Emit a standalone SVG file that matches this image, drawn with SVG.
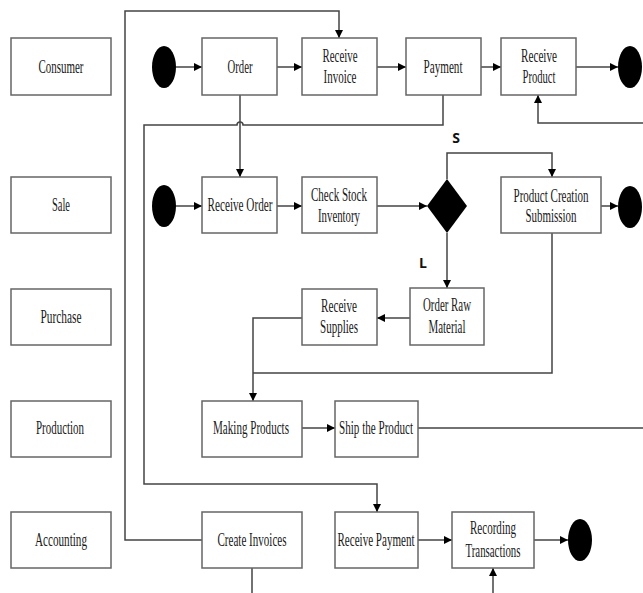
<svg xmlns="http://www.w3.org/2000/svg" width="643" height="593" viewBox="0 0 643 593">
<style>
.box{fill:#fff;stroke:#666;stroke-width:1.5}
.t{font-family:"Liberation Serif","DejaVu Serif","Times New Roman",serif;font-size:18.5px;fill:#1a1a1a;text-anchor:middle}
.b{font-family:"Open Sans","DejaVu Sans",sans-serif;font-size:14px;font-weight:bold;fill:#111;text-anchor:middle}
.c{fill:none;stroke:#444;stroke-width:1.5}
.dot{fill:#000}
</style>
<defs>
<marker id="ah" markerUnits="userSpaceOnUse" markerWidth="10" markerHeight="10" refX="9" refY="5" orient="auto">
<path d="M1,1 L9,5 L1,9 Z" fill="#000"/>
</marker>
</defs>
<rect width="643" height="593" fill="#fff"/>
<g id="lanes">
<g id="lane-consumer"><rect class="box" x="11" y="38" width="100" height="57"/><text class="t" x="61" y="73" textLength="45" lengthAdjust="spacingAndGlyphs">Consumer</text></g>
<g id="lane-sale"><rect class="box" x="11" y="177" width="100" height="56"/><text class="t" x="61" y="211" textLength="18" lengthAdjust="spacingAndGlyphs">Sale</text></g>
<g id="lane-purchase"><rect class="box" x="11" y="289" width="100" height="56"/><text class="t" x="61" y="323" textLength="41" lengthAdjust="spacingAndGlyphs">Purchase</text></g>
<g id="lane-production"><rect class="box" x="11" y="401" width="100" height="56"/><text class="t" x="60" y="434" textLength="48" lengthAdjust="spacingAndGlyphs">Production</text></g>
<g id="lane-accounting"><rect class="box" x="11" y="512" width="100" height="56"/><text class="t" x="61" y="546" textLength="52" lengthAdjust="spacingAndGlyphs">Accounting</text></g>
</g>
<g id="connectors">
<path class="c" d="M176,67 H202" marker-end="url(#ah)"/>
<path class="c" d="M277,67 H302" marker-end="url(#ah)"/>
<path class="c" d="M377,67 H406" marker-end="url(#ah)"/>
<path class="c" d="M481,67 H501" marker-end="url(#ah)"/>
<path class="c" d="M576,67 H618" marker-end="url(#ah)"/>
<path class="c" d="M202,540 H125 V11 H339 V38" marker-end="url(#ah)"/>
<path class="c" d="M443,95 V125 H243 A3,3 0 0 0 237,125 H144 V484 H377 V512" marker-end="url(#ah)"/>
<path class="c" d="M240,95 V177" marker-end="url(#ah)"/>
<path class="c" d="M176,206 H202" marker-end="url(#ah)"/>
<path class="c" d="M277,206 H302" marker-end="url(#ah)"/>
<path class="c" d="M377,206 H427" marker-end="url(#ah)"/>
<path class="c" d="M447,179 V153 H552 V177" marker-end="url(#ah)"/>
<path class="c" d="M601,206 H618" marker-end="url(#ah)"/>
<path class="c" d="M447,233 V288" marker-end="url(#ah)"/>
<path class="c" d="M410,318 H377" marker-end="url(#ah)"/>
<path class="c" d="M302,318 H253 V401" marker-end="url(#ah)"/>
<path class="c" d="M552,233 V373 H253"/>
<path class="c" d="M302,428 H335" marker-end="url(#ah)"/>
<path class="c" d="M418,428 H652 V123 H538 V95" marker-end="url(#ah)"/>
<path class="c" d="M418,540 H452" marker-end="url(#ah)"/>
<path class="c" d="M534,540 H568" marker-end="url(#ah)"/>
<path class="c" d="M252,568 V605 H493 V568" marker-end="url(#ah)"/>
</g>
<g id="start-consumer"><ellipse class="dot" cx="164" cy="67" rx="12" ry="21"/></g>
<g id="order"><rect class="box" x="202" y="38" width="75" height="57"/><text class="t" x="240" y="73" textLength="25" lengthAdjust="spacingAndGlyphs">Order</text></g>
<g id="receive-invoice"><rect class="box" x="302" y="38" width="75" height="57"/><text class="t" x="340" y="62" textLength="35" lengthAdjust="spacingAndGlyphs">Receive</text><text class="t" x="340" y="83" textLength="33" lengthAdjust="spacingAndGlyphs">Invoice</text></g>
<g id="payment"><rect class="box" x="406" y="38" width="75" height="57"/><text class="t" x="443" y="73" textLength="39" lengthAdjust="spacingAndGlyphs">Payment</text></g>
<g id="receive-product"><rect class="box" x="501" y="38" width="75" height="57"/><text class="t" x="539" y="62" textLength="36" lengthAdjust="spacingAndGlyphs">Receive</text><text class="t" x="539" y="83" textLength="33" lengthAdjust="spacingAndGlyphs">Product</text></g>
<g id="end-consumer"><ellipse class="dot" cx="630" cy="67" rx="12" ry="21"/></g>
<g id="start-sale"><ellipse class="dot" cx="164" cy="206" rx="12" ry="21"/></g>
<g id="receive-order"><rect class="box" x="202" y="177" width="75" height="56"/><text class="t" x="240" y="211" textLength="65" lengthAdjust="spacingAndGlyphs">Receive Order</text></g>
<g id="check-stock"><rect class="box" x="302" y="177" width="75" height="56"/><text class="t" x="339" y="201" textLength="56" lengthAdjust="spacingAndGlyphs">Check Stock</text><text class="t" x="339" y="222" textLength="42" lengthAdjust="spacingAndGlyphs">Inventory</text></g>
<g id="decision"><polygon points="447,179 467,206 447,233 427,206" fill="#000"/><text class="b" x="456" y="143">S</text><text class="b" x="423" y="268">L</text></g>
<g id="product-creation"><rect class="box" x="501" y="177" width="100" height="56"/><text class="t" x="551" y="202" textLength="75" lengthAdjust="spacingAndGlyphs">Product Creation</text><text class="t" x="551" y="222" textLength="51" lengthAdjust="spacingAndGlyphs">Submission</text></g>
<g id="end-sale"><ellipse class="dot" cx="630" cy="207" rx="12" ry="21"/></g>
<g id="receive-supplies"><rect class="box" x="302" y="289" width="75" height="56"/><text class="t" x="339" y="312" textLength="36" lengthAdjust="spacingAndGlyphs">Receive</text><text class="t" x="339" y="333" textLength="38" lengthAdjust="spacingAndGlyphs">Supplies</text></g>
<g id="order-raw-material"><rect class="box" x="410" y="288" width="74" height="57"/><text class="t" x="447" y="311" textLength="48" lengthAdjust="spacingAndGlyphs">Order Raw</text><text class="t" x="447" y="333" textLength="37" lengthAdjust="spacingAndGlyphs">Material</text></g>
<g id="making-products"><rect class="box" x="202" y="401" width="100" height="56"/><text class="t" x="251" y="434" textLength="76" lengthAdjust="spacingAndGlyphs">Making Products</text></g>
<g id="ship-product"><rect class="box" x="335" y="401" width="83" height="56"/><text class="t" x="376" y="434" textLength="74" lengthAdjust="spacingAndGlyphs">Ship the Product</text></g>
<g id="create-invoices"><rect class="box" x="202" y="512" width="100" height="56"/><text class="t" x="252" y="546" textLength="69" lengthAdjust="spacingAndGlyphs">Create Invoices</text></g>
<g id="receive-payment"><rect class="box" x="335" y="512" width="83" height="56"/><text class="t" x="376" y="546" textLength="77" lengthAdjust="spacingAndGlyphs">Receive Payment</text></g>
<g id="recording-transactions"><rect class="box" x="452" y="512" width="82" height="56"/><text class="t" x="493" y="534" textLength="46" lengthAdjust="spacingAndGlyphs">Recording</text><text class="t" x="493" y="557" textLength="55" lengthAdjust="spacingAndGlyphs">Transactions</text></g>
<g id="end-accounting"><ellipse class="dot" cx="580" cy="540" rx="12" ry="21"/></g>
</svg>
